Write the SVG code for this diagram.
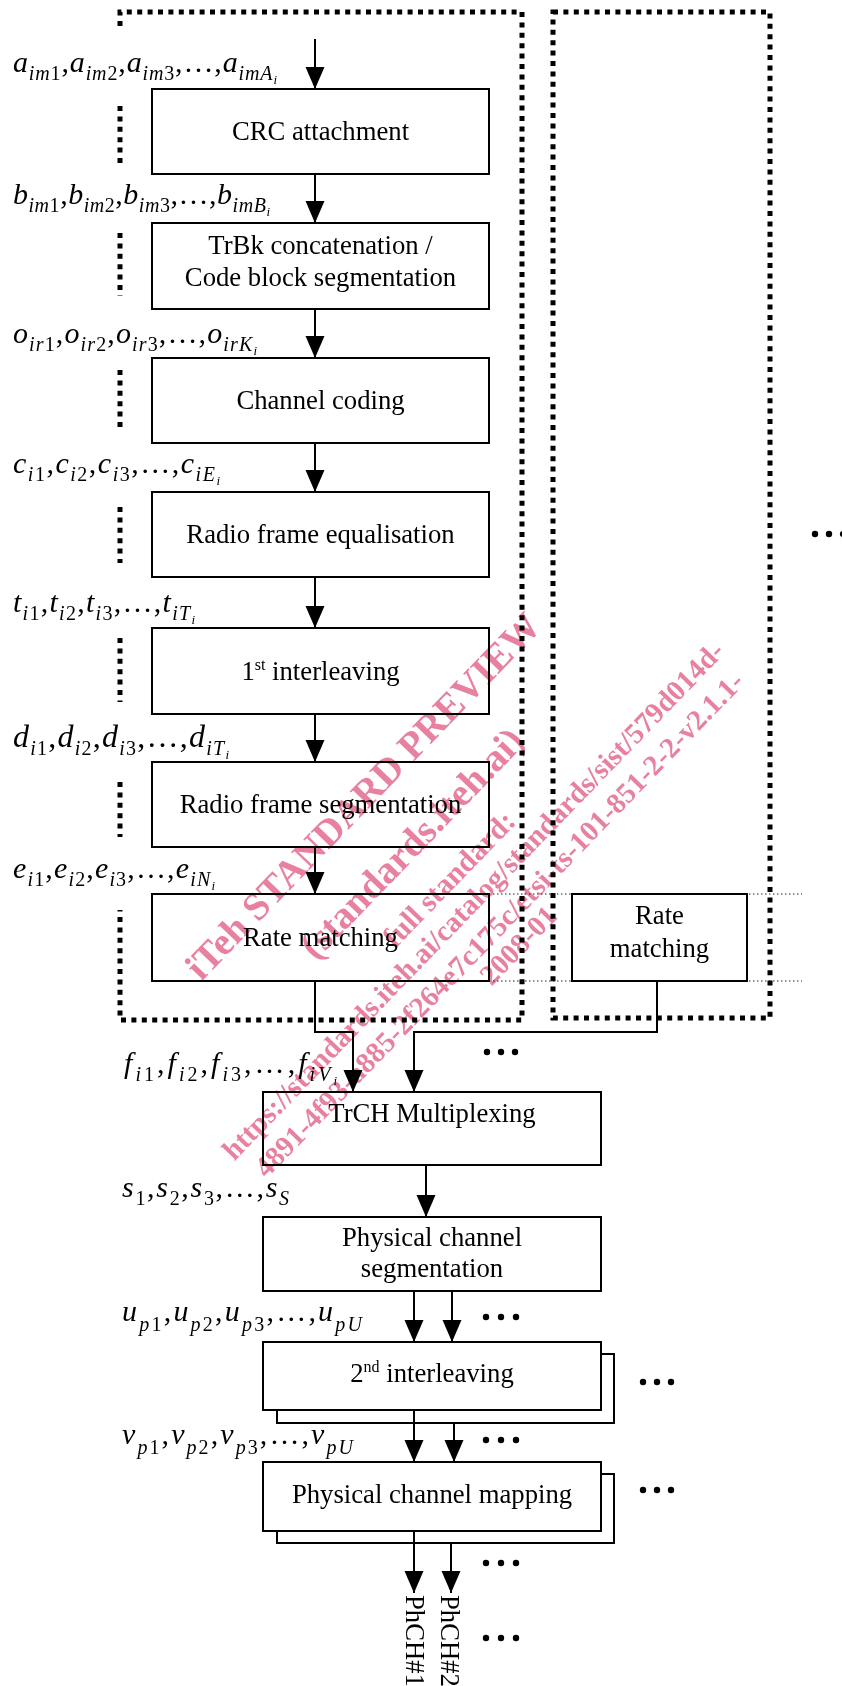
<svg xmlns="http://www.w3.org/2000/svg" width="842" height="1686" viewBox="0 0 842 1686">
  <defs>
    <style>
      .bx { fill: #fff; stroke: #000; stroke-width: 2; }
      .t { font-family: "Liberation Serif", "Times New Roman", serif; font-size: 26.7px; text-anchor: middle; fill: #000; }
      .sup { font-size: 16px; }
      .m { font-family: "Liberation Serif", "Times New Roman", serif; font-size: 30px; fill: #000; }
      .i { font-style: italic; }
      .sb { font-size: 20px; }
      .ss { font-size: 13px; }
      .c { fill: none; stroke: #000; stroke-width: 2; marker-end: url(#ah); }
      .grp { fill: none; stroke: #000; stroke-width: 5; stroke-dasharray: 5 5.4; }
      .thin { fill: none; stroke: #222; stroke-width: 1; stroke-dasharray: 1.5 2.5; }
      .dot { fill: #000; }
      .wm { font-family: "Liberation Serif", "Times New Roman", serif; font-weight: bold; fill: #e8819f; text-anchor: middle; }
    </style>
    <marker id="ah" markerUnits="userSpaceOnUse" markerWidth="22" markerHeight="20" viewBox="0 0 22 20" refX="22" refY="10" orient="auto">
      <path d="M0,0.5 L22,10 L0,19.5 Z" fill="#000"/>
    </marker>
  </defs>

  <!-- transport channel processing groups (dotted frames) -->
  <g id="trch-group-i">
    <path class="grp" d="M120,26 V12 H522 V1020 H120 V910"/>
    <path class="grp" d="M120,106 V163 M120,233 V296 M120,370 V427 M120,507 V563 M120,638 V702 M120,782 V837"/>
  </g>
  <g id="trch-group-other">
    <rect class="grp" x="553" y="12" width="217" height="1006"/>
  </g>
  <g id="rate-matching-guides">
    <path class="thin" d="M489,894 H802 M489,981 H802"/>
  </g>

  <!-- processing blocks -->
  <g id="crc">
    <rect class="bx" x="152" y="89" width="337" height="85"/>
    <text class="t" x="320.5" y="140">CRC attachment</text>
  </g>
  <g id="concat">
    <rect class="bx" x="152" y="223" width="337" height="86"/>
    <text class="t" x="320.5" y="254">TrBk concatenation /</text>
    <text class="t" x="320.5" y="286">Code block segmentation</text>
  </g>
  <g id="coding">
    <rect class="bx" x="152" y="358" width="337" height="85"/>
    <text class="t" x="320.5" y="409">Channel coding</text>
  </g>
  <g id="equalisation">
    <rect class="bx" x="152" y="492" width="337" height="85"/>
    <text class="t" x="320.5" y="543">Radio frame equalisation</text>
  </g>
  <g id="interleave1">
    <rect class="bx" x="152" y="628" width="337" height="86"/>
    <text class="t" x="320.5" y="680">1<tspan class="sup" dy="-10">st</tspan><tspan dy="10"> interleaving</tspan></text>
  </g>
  <g id="frame-seg">
    <rect class="bx" x="152" y="762" width="337" height="85"/>
    <text class="t" x="320.5" y="813">Radio frame segmentation</text>
  </g>
  <g id="rate-match">
    <rect class="bx" x="152" y="894" width="337" height="87"/>
    <text class="t" x="320.5" y="946">Rate matching</text>
  </g>
  <g id="rate-match-other">
    <rect class="bx" x="572" y="894" width="175" height="87"/>
    <text class="t" x="659.5" y="924">Rate</text>
    <text class="t" x="659.5" y="957">matching</text>
  </g>
  <g id="mux">
    <rect class="bx" x="263" y="1092" width="338" height="73"/>
    <text class="t" x="432" y="1122">TrCH Multiplexing</text>
  </g>
  <g id="phch-seg">
    <rect class="bx" x="263" y="1217" width="338" height="74"/>
    <text class="t" x="432" y="1246">Physical channel</text>
    <text class="t" x="432" y="1277">segmentation</text>
  </g>
  <g id="interleave2">
    <rect class="bx" x="277" y="1354" width="337" height="69"/>
    <rect class="bx" x="263" y="1342" width="338" height="68"/>
    <text class="t" x="432" y="1382">2<tspan class="sup" dy="-10">nd</tspan><tspan dy="10"> interleaving</tspan></text>
  </g>
  <g id="phch-map">
    <rect class="bx" x="277" y="1474" width="337" height="69"/>
    <rect class="bx" x="263" y="1462" width="338" height="69"/>
    <text class="t" x="432" y="1503">Physical channel mapping</text>
  </g>

  <!-- connectors -->
  <g id="connectors">
    <path class="c" d="M315,39 V89"/>
    <path class="c" d="M315,174 V223"/>
    <path class="c" d="M315,309 V358"/>
    <path class="c" d="M315,443 V492"/>
    <path class="c" d="M315,577 V628"/>
    <path class="c" d="M315,714 V762"/>
    <path class="c" d="M315,847 V894"/>
    <path class="c" d="M315,981 V1032 H353 V1092"/>
    <path class="c" d="M657,981 V1032 H414 V1092"/>
    <path class="c" d="M426,1165 V1217"/>
    <path class="c" d="M414,1291 V1342"/>
    <path class="c" d="M452,1291 V1342"/>
    <path class="c" d="M414,1410 V1462"/>
    <path class="c" d="M454,1423 V1462"/>
    <path class="c" d="M414,1531 V1593"/>
    <path class="c" d="M451,1543 V1593"/>
  </g>

  <!-- bit sequence labels -->
  <g id="labels">
    <text class="m" x="13" y="72" textLength="264" lengthAdjust="spacing"><tspan class="i">a</tspan><tspan class="sb i" dy="8">im</tspan><tspan class="sb">1</tspan><tspan dy="-8">,</tspan><tspan class="i">a</tspan><tspan class="sb i" dy="8">im</tspan><tspan class="sb">2</tspan><tspan dy="-8">,</tspan><tspan class="i">a</tspan><tspan class="sb i" dy="8">im</tspan><tspan class="sb">3</tspan><tspan dy="-8">,…,</tspan><tspan class="i">a</tspan><tspan class="sb i" dy="8">imA</tspan><tspan class="ss i" dy="4">i</tspan></text>
    <text class="m" x="13" y="204" textLength="257" lengthAdjust="spacing"><tspan class="i">b</tspan><tspan class="sb i" dy="8">im</tspan><tspan class="sb">1</tspan><tspan dy="-8">,</tspan><tspan class="i">b</tspan><tspan class="sb i" dy="8">im</tspan><tspan class="sb">2</tspan><tspan dy="-8">,</tspan><tspan class="i">b</tspan><tspan class="sb i" dy="8">im</tspan><tspan class="sb">3</tspan><tspan dy="-8">,…,</tspan><tspan class="i">b</tspan><tspan class="sb i" dy="8">imB</tspan><tspan class="ss i" dy="4">i</tspan></text>
    <text class="m" x="13" y="343" textLength="244" lengthAdjust="spacing"><tspan class="i">o</tspan><tspan class="sb i" dy="8">ir</tspan><tspan class="sb">1</tspan><tspan dy="-8">,</tspan><tspan class="i">o</tspan><tspan class="sb i" dy="8">ir</tspan><tspan class="sb">2</tspan><tspan dy="-8">,</tspan><tspan class="i">o</tspan><tspan class="sb i" dy="8">ir</tspan><tspan class="sb">3</tspan><tspan dy="-8">,…,</tspan><tspan class="i">o</tspan><tspan class="sb i" dy="8">irK</tspan><tspan class="ss i" dy="4">i</tspan></text>
    <text class="m" x="13" y="473" textLength="207" lengthAdjust="spacing"><tspan class="i">c</tspan><tspan class="sb i" dy="8">i</tspan><tspan class="sb">1</tspan><tspan dy="-8">,</tspan><tspan class="i">c</tspan><tspan class="sb i" dy="8">i</tspan><tspan class="sb">2</tspan><tspan dy="-8">,</tspan><tspan class="i">c</tspan><tspan class="sb i" dy="8">i</tspan><tspan class="sb">3</tspan><tspan dy="-8">,…,</tspan><tspan class="i">c</tspan><tspan class="sb i" dy="8">iE</tspan><tspan class="ss i" dy="4">i</tspan></text>
    <text class="m" x="13" y="612" textLength="182" lengthAdjust="spacing"><tspan class="i">t</tspan><tspan class="sb i" dy="8">i</tspan><tspan class="sb">1</tspan><tspan dy="-8">,</tspan><tspan class="i">t</tspan><tspan class="sb i" dy="8">i</tspan><tspan class="sb">2</tspan><tspan dy="-8">,</tspan><tspan class="i">t</tspan><tspan class="sb i" dy="8">i</tspan><tspan class="sb">3</tspan><tspan dy="-8">,…,</tspan><tspan class="i">t</tspan><tspan class="sb i" dy="8">iT</tspan><tspan class="ss i" dy="4">i</tspan></text>
    <text class="m" x="13" y="747" textLength="216" lengthAdjust="spacing" style="font-size:32px"><tspan class="i">d</tspan><tspan class="sb i" dy="8">i</tspan><tspan class="sb">1</tspan><tspan dy="-8">,</tspan><tspan class="i">d</tspan><tspan class="sb i" dy="8">i</tspan><tspan class="sb">2</tspan><tspan dy="-8">,</tspan><tspan class="i">d</tspan><tspan class="sb i" dy="8">i</tspan><tspan class="sb">3</tspan><tspan dy="-8">,…,</tspan><tspan class="i">d</tspan><tspan class="sb i" dy="8">iT</tspan><tspan class="ss i" dy="4">i</tspan></text>
    <text class="m" x="13" y="878" textLength="202" lengthAdjust="spacing"><tspan class="i">e</tspan><tspan class="sb i" dy="8">i</tspan><tspan class="sb">1</tspan><tspan dy="-8">,</tspan><tspan class="i">e</tspan><tspan class="sb i" dy="8">i</tspan><tspan class="sb">2</tspan><tspan dy="-8">,</tspan><tspan class="i">e</tspan><tspan class="sb i" dy="8">i</tspan><tspan class="sb">3</tspan><tspan dy="-8">,…,</tspan><tspan class="i">e</tspan><tspan class="sb i" dy="8">iN</tspan><tspan class="ss i" dy="4">i</tspan></text>
    <text class="m" x="124" y="1073" textLength="213" lengthAdjust="spacing"><tspan class="i">f</tspan><tspan class="sb i" dy="8">i</tspan><tspan class="sb">1</tspan><tspan dy="-8">,</tspan><tspan class="i">f</tspan><tspan class="sb i" dy="8">i</tspan><tspan class="sb">2</tspan><tspan dy="-8">,</tspan><tspan class="i">f</tspan><tspan class="sb i" dy="8">i</tspan><tspan class="sb">3</tspan><tspan dy="-8">,…,</tspan><tspan class="i">f</tspan><tspan class="sb i" dy="8">iV</tspan><tspan class="ss i" dy="4">i</tspan></text>
    <text class="m" x="122" y="1197" textLength="167" lengthAdjust="spacing"><tspan class="i">s</tspan><tspan class="sb" dy="8">1</tspan><tspan dy="-8">,</tspan><tspan class="i">s</tspan><tspan class="sb" dy="8">2</tspan><tspan dy="-8">,</tspan><tspan class="i">s</tspan><tspan class="sb" dy="8">3</tspan><tspan dy="-8">,…,</tspan><tspan class="i">s</tspan><tspan class="sb i" dy="8">S</tspan></text>
    <text class="m" x="122" y="1321" textLength="240" lengthAdjust="spacing"><tspan class="i">u</tspan><tspan class="sb i" dy="10">p</tspan><tspan class="sb">1</tspan><tspan dy="-10">,</tspan><tspan class="i">u</tspan><tspan class="sb i" dy="10">p</tspan><tspan class="sb">2</tspan><tspan dy="-10">,</tspan><tspan class="i">u</tspan><tspan class="sb i" dy="10">p</tspan><tspan class="sb">3</tspan><tspan dy="-10">,…,</tspan><tspan class="i">u</tspan><tspan class="sb i" dy="10">pU</tspan></text>
    <text class="m" x="122" y="1444" textLength="231" lengthAdjust="spacing"><tspan class="i">v</tspan><tspan class="sb i" dy="10">p</tspan><tspan class="sb">1</tspan><tspan dy="-10">,</tspan><tspan class="i">v</tspan><tspan class="sb i" dy="10">p</tspan><tspan class="sb">2</tspan><tspan dy="-10">,</tspan><tspan class="i">v</tspan><tspan class="sb i" dy="10">p</tspan><tspan class="sb">3</tspan><tspan dy="-10">,…,</tspan><tspan class="i">v</tspan><tspan class="sb i" dy="10">pU</tspan></text>
  </g>

  <!-- physical channel outputs -->
  <g id="outputs">
    <text class="m" style="font-size:26.7px" transform="translate(406,1595) rotate(90)">PhCH#1</text>
    <text class="m" style="font-size:26.7px" transform="translate(441,1595) rotate(90)">PhCH#2</text>
  </g>

  <!-- continuation marks -->
  <g id="ellipses">
    <circle class="dot" cx="815" cy="534" r="3.2"/><circle class="dot" cx="829" cy="534" r="3.2"/><circle class="dot" cx="843" cy="534" r="3.2"/>
    <circle class="dot" cx="487" cy="1052" r="3.2"/><circle class="dot" cx="501" cy="1052" r="3.2"/><circle class="dot" cx="515" cy="1052" r="3.2"/>
    <circle class="dot" cx="486" cy="1317" r="3.2"/><circle class="dot" cx="501" cy="1317" r="3.2"/><circle class="dot" cx="516" cy="1317" r="3.2"/>
    <circle class="dot" cx="643" cy="1382" r="3.2"/><circle class="dot" cx="657" cy="1382" r="3.2"/><circle class="dot" cx="671" cy="1382" r="3.2"/>
    <circle class="dot" cx="486" cy="1440" r="3.2"/><circle class="dot" cx="501" cy="1440" r="3.2"/><circle class="dot" cx="516" cy="1440" r="3.2"/>
    <circle class="dot" cx="643" cy="1490" r="3.2"/><circle class="dot" cx="657" cy="1490" r="3.2"/><circle class="dot" cx="671" cy="1490" r="3.2"/>
    <circle class="dot" cx="486" cy="1563" r="3.2"/><circle class="dot" cx="501" cy="1563" r="3.2"/><circle class="dot" cx="516" cy="1563" r="3.2"/>
    <circle class="dot" cx="486" cy="1638" r="3.2"/><circle class="dot" cx="501" cy="1638" r="3.2"/><circle class="dot" cx="516" cy="1638" r="3.2"/>
  </g>

  <!-- diagonal stamp overlay -->
  <g id="stamp" style="mix-blend-mode:multiply">
    <text class="wm" style="font-size:39px" transform="translate(372,805) rotate(-46)">iTeh STANDARD PREVIEW</text>
    <text class="wm" style="font-size:39px" transform="translate(421,852) rotate(-46)">(standards.iteh.ai)</text>
    <text class="wm" style="font-size:30px" transform="translate(456,886) rotate(-46)">full standard:</text>
    <text class="wm" style="font-size:29px" transform="translate(480,907) rotate(-46)">https://standards.iteh.ai/catalog/standards/sist/579d014d-</text>
    <text class="wm" style="font-size:29px" transform="translate(506,931) rotate(-46)">4891-4f93-a885-2f264e7c175c/etsi-ts-101-851-2-2-v2.1.1-</text>
    <text class="wm" style="font-size:29px" transform="translate(525,952) rotate(-46)">2008-01</text>
  </g>
</svg>
